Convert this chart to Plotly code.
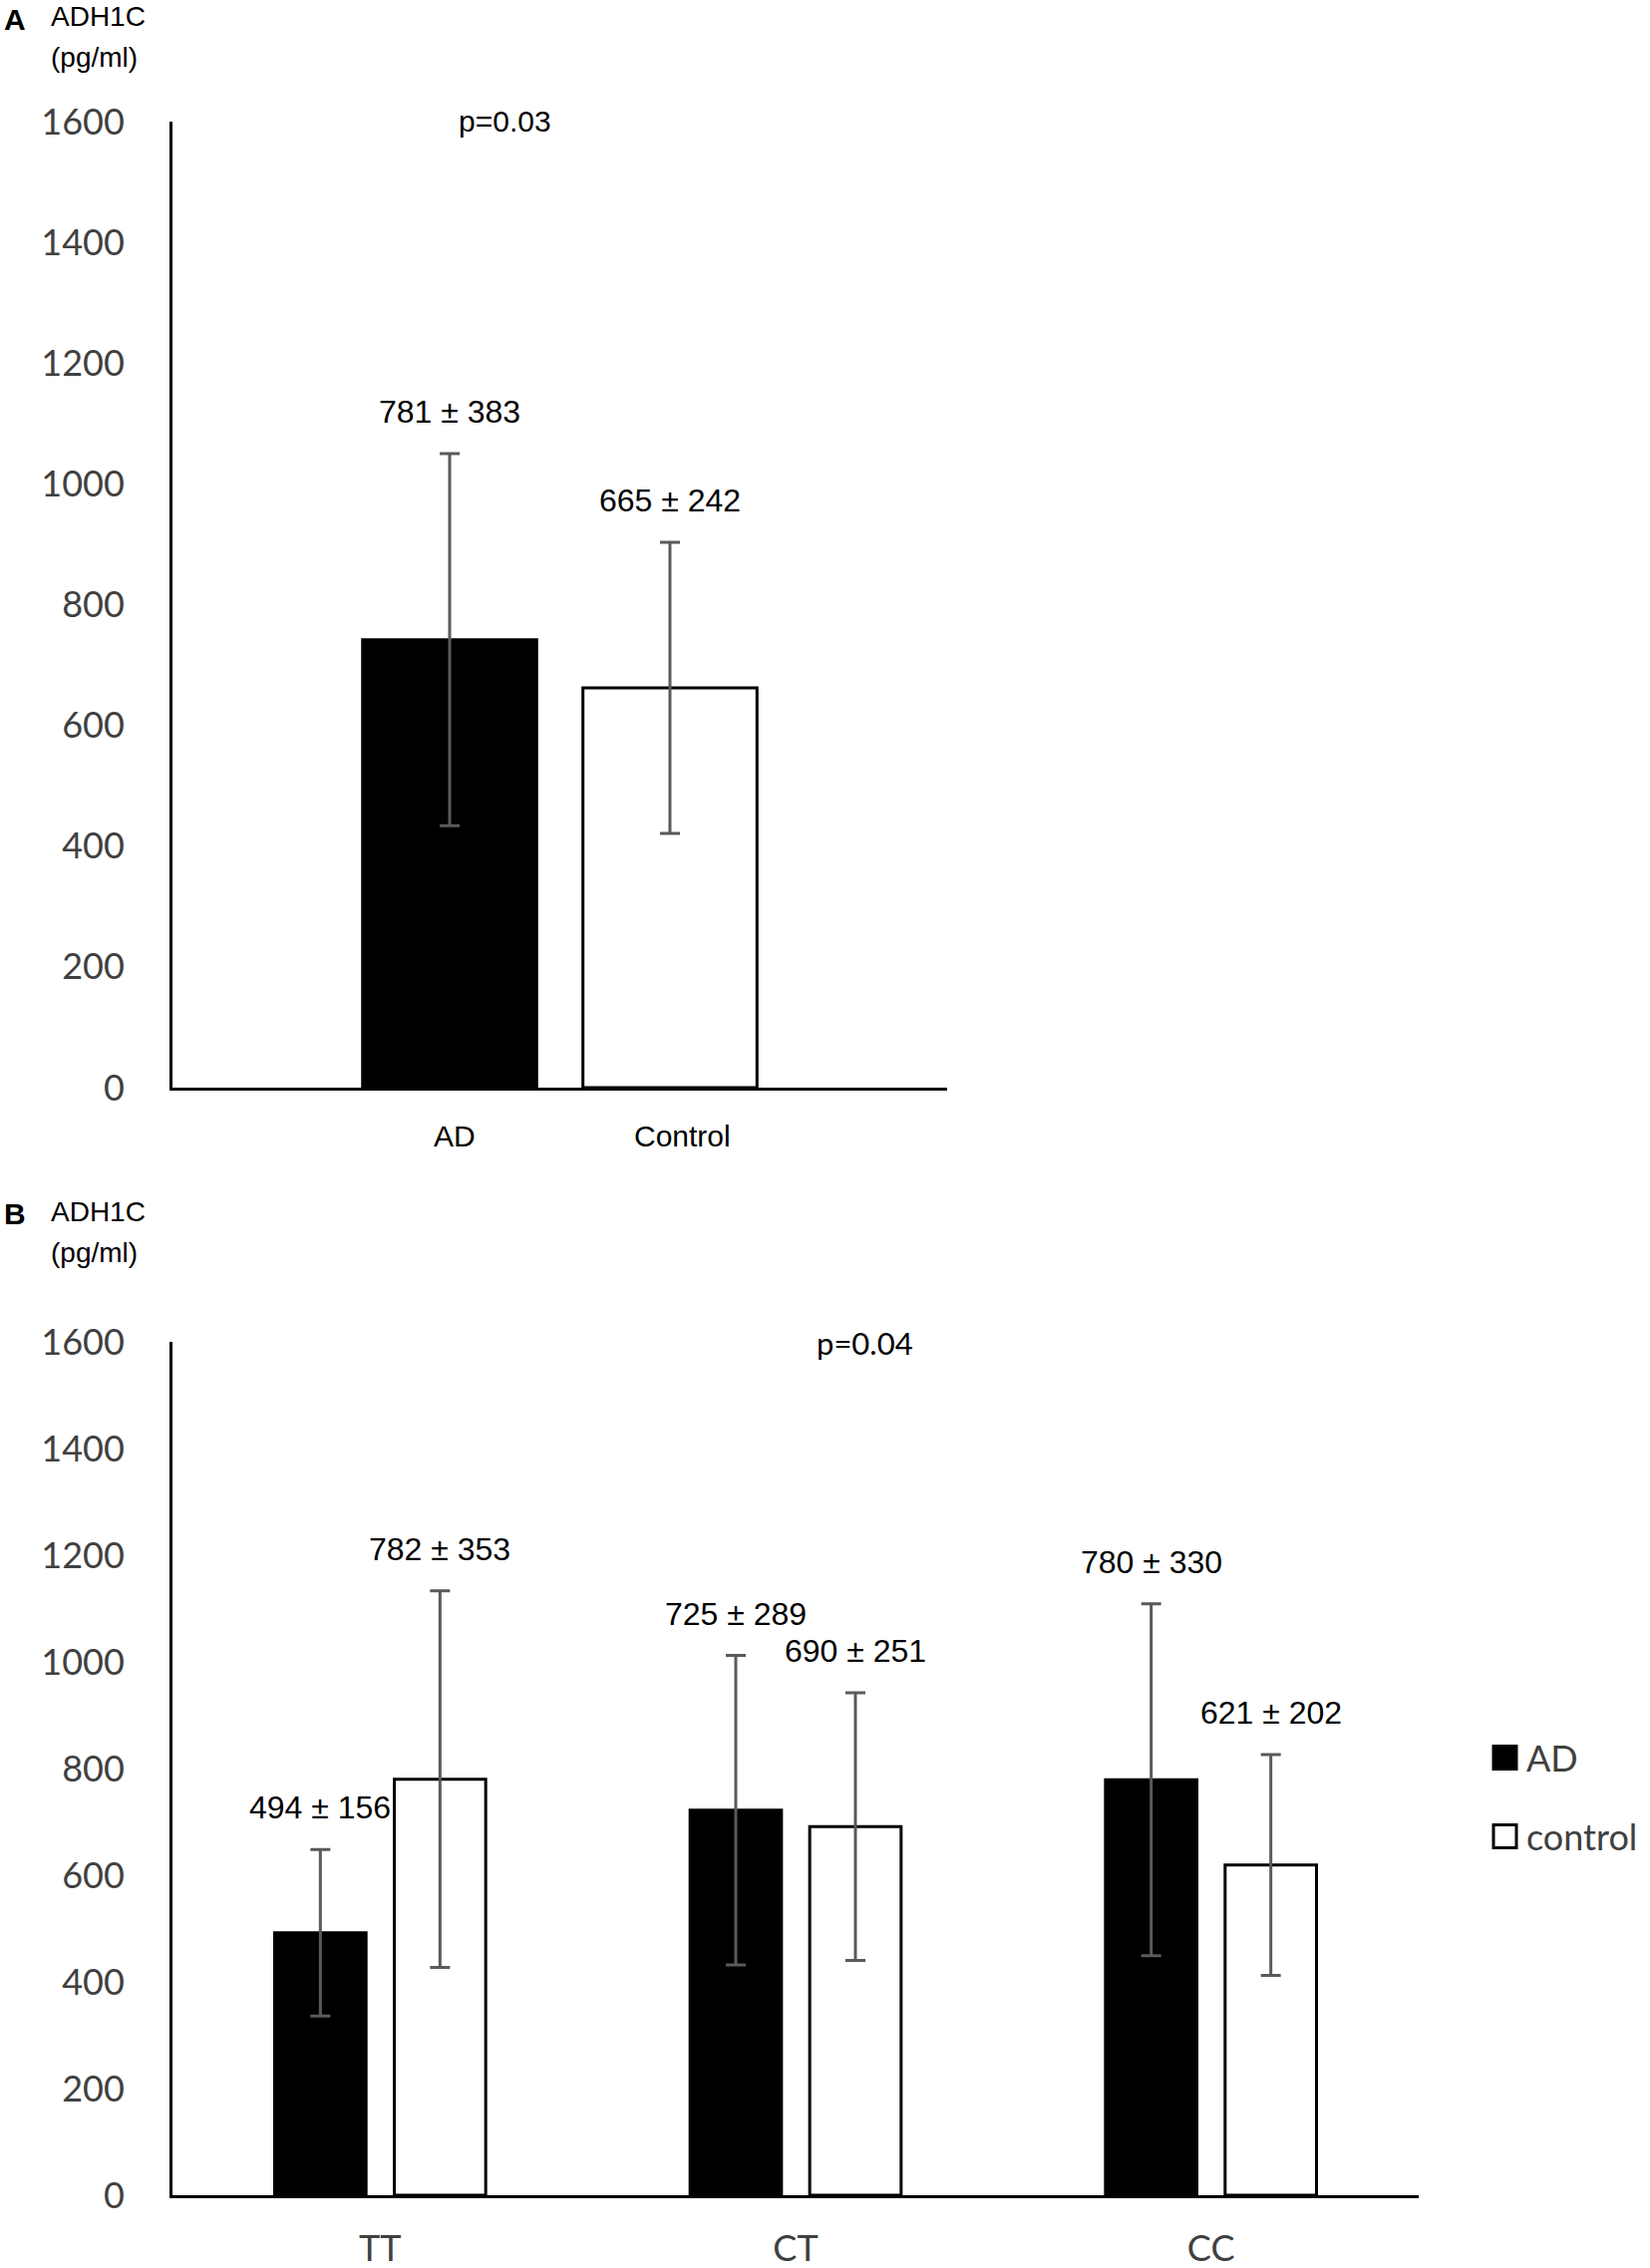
import plotly.graph_objects as go

# ---- data ----
# panel A: one bar per group
groups_a = ["AD", "Control"]
mean_a = [742, 662]
sd_a = [308, 241]
labels_a = ["781 ± 383", "665 ± 242"]

# panel B: genotype x group
genotypes = ["TT", "CT", "CC"]
mean_ad = [492, 722, 779]
sd_ad = [156, 290, 330]
mean_ctrl = [780, 691, 619]
sd_ctrl = [353, 251, 207]
labels_ad = ["494 ± 156", "725 ± 289", "780 ± 330"]
labels_ctrl = ["782 ± 353", "690 ± 251", "621 ± 202"]

W, H = 1655, 2275
ERR_COLOR = "#5a5a5a"
TICK_COLOR = "#404040"
AXIS_FONT = "Lato, 'Open Sans', sans-serif"
TEXT_FONT = "'Liberation Sans', Arial, sans-serif"


def px(x):
    return x / W


def py(y):
    return 1 - y / H


def err(values):
    return dict(type="data", array=values, visible=True, color=ERR_COLOR,
                thickness=3, width=10)


def note(x, y, text, font, size, color="black", xanchor="center"):
    # paper-positioned text, anchored explicitly
    return dict(x=px(x), y=py(y), xref="paper", yref="paper", text=text,
                showarrow=False, xanchor=xanchor, yanchor="middle",
                font=dict(family=font, size=size, color=color))


fig = go.Figure()

# panel A
fig.add_trace(go.Bar(
    x=groups_a, y=mean_a, error_y=err(sd_a), width=0.79,
    marker=dict(color=["black", "white"], line=dict(color="black", width=3)),
    xaxis="x", yaxis="y", showlegend=False,
))

# panel B
fig.add_trace(go.Bar(
    x=genotypes, y=mean_ad, error_y=err(sd_ad), name="AD",
    marker=dict(color="black", line=dict(color="black", width=3)),
    xaxis="x2", yaxis="y2", showlegend=False,
))
fig.add_trace(go.Bar(
    x=genotypes, y=mean_ctrl, error_y=err(sd_ctrl), name="control",
    marker=dict(color="white", line=dict(color="black", width=3)),
    xaxis="x2", yaxis="y2", showlegend=False,
))

yaxis_common = dict(
    range=[0, 1600], dtick=200, showgrid=False, zeroline=False,
    showline=True, linecolor="black", linewidth=3, ticks="",
    ticklabelstandoff=38, automargin=False,
    tickfont=dict(family=AXIS_FONT, size=36, color=TICK_COLOR),
)

fig.update_layout(
    width=W, height=H,
    margin=dict(l=0, r=0, t=0, b=0),
    paper_bgcolor="white", plot_bgcolor="white",
    barmode="group", bargap=0.424, bargroupgap=0.236,
    xaxis=dict(domain=[px(173), px(950)], range=[-1.258, 2.258],
               showline=True, linecolor="black", linewidth=3, ticks="",
               showgrid=False, automargin=False, showticklabels=False,
               anchor="y"),
    yaxis=dict(domain=[py(1091), py(122)], anchor="x", **yaxis_common),
    xaxis2=dict(domain=[px(173), px(1423)], range=[-0.5, 2.5],
                showline=True, linecolor="black", linewidth=3, ticks="",
                showgrid=False, automargin=False, ticklabelstandoff=20,
                tickfont=dict(family=AXIS_FONT, size=36, color=TICK_COLOR),
                anchor="y2"),
    yaxis2=dict(domain=[py(2202), py(1346)], anchor="x2", **yaxis_common),
)

ann = []

# panel A group names sit a little right of the bar centres
for i, (g, shift) in enumerate(zip(groups_a, [5, 13])):
    ann.append(dict(x=i, y=0, xref="x", yref="y", text=g, showarrow=False,
                    xanchor="center", yanchor="middle", yshift=-49, xshift=shift,
                    font=dict(family=TEXT_FONT, size=30, color="black")))

# value labels above the error bars
for i, (m, s, t) in enumerate(zip(mean_a, sd_a, labels_a)):
    ann.append(dict(x=i, y=m + s, xref="x", yref="y", text=t, showarrow=False,
                    xanchor="center", yanchor="bottom", yshift=22,
                    font=dict(family=TEXT_FONT, size=32, color="black")))
for means, sds, texts, off in [(mean_ad, sd_ad, labels_ad, -0.144),
                               (mean_ctrl, sd_ctrl, labels_ctrl, 0.144)]:
    for i, (m, s, t) in enumerate(zip(means, sds, texts)):
        ann.append(dict(x=i + off, y=m + s, xref="x2", yref="y2", text=t,
                        showarrow=False, xanchor="center", yanchor="bottom",
                        yshift=22,
                        font=dict(family=TEXT_FONT, size=32, color="black")))

# p-values
ann.append(note(506, 122, "p=0.03", TEXT_FONT, 30))
ann.append(note(867, 1347, "p=0.04", AXIS_FONT, 31))

# panel letters and y titles
for letter, ytop in [("A", 0), ("B", 1198)]:
    ann.append(note(2, ytop + 19, "<b>%s</b>" % letter, TEXT_FONT, 30,
                    xanchor="left"))
    ann.append(note(49, ytop + 17, "ADH1C", TEXT_FONT, 28, xanchor="left"))
    ann.append(note(49, ytop + 58, "(pg/ml)", TEXT_FONT, 28, xanchor="left"))

# legend for panel B
shapes = []
for name, color, yc in [("AD", "black", 1763), ("control", "white", 1842)]:
    shapes.append(dict(type="rect", xref="paper", yref="paper",
                       x0=px(1498), x1=px(1521), y0=py(yc + 11.5), y1=py(yc - 11.5),
                       fillcolor=color, line=dict(color="black", width=3)))
    ann.append(note(1529, yc, name, AXIS_FONT, 36, TICK_COLOR, xanchor="left"))

fig.update_layout(annotations=ann, shapes=shapes)

fig.write_html("out.html", config={"displayModeBar": False},
               post_script="document.body.style.margin='0';")
